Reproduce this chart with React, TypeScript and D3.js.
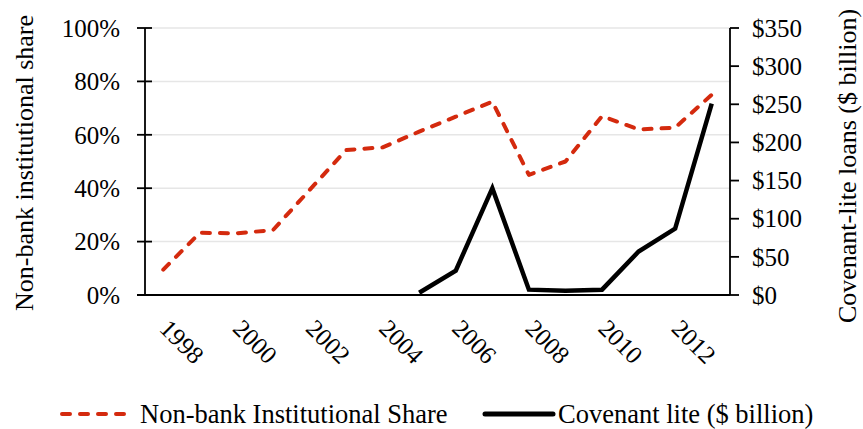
import React from "react";
import * as d3 from "d3";

const years = [1998,1999,2000,2001,2002,2003,2004,2005,2006,2007,2008,2009,2010,2011,2012,2013];
const nonBankShare = [9.5,23.3,23.1,24.3,39.3,54.3,55.3,61.2,66.8,72.4,45,50,67,62,62.7,75];
const covLiteYears = [2005,2006,2007,2008,2009,2010,2011,2012,2013];
const covLite = [3,32,140,7,5.5,7,57,87,251];
const leftTicks = [0,20,40,60,80,100];
const rightTicks = [0,50,100,150,200,250,300,350];
const xLabelYears = [1998,2000,2002,2004,2006,2008,2010,2012];

const W = 863, H = 429;
const L = 145, R = 730, T = 28, B = 295;
const RED = "#d42a0e";
const FONT = "'Liberation Serif', 'Times New Roman', serif";

export default function App() {
  const x = d3.scaleBand<number>().domain(years).range([L, R]);
  const cx = (yr: number) => (x(yr) as number) + x.bandwidth() / 2;
  const yL = d3.scaleLinear().domain([0, 100]).range([B, T]);
  const yR = d3.scaleLinear().domain([0, 350]).range([B, T]);
  const redLine = d3.line<number>().x((_, i) => cx(years[i])).y(d => yL(d));
  const blackLine = d3.line<number>().x((_, i) => cx(covLiteYears[i])).y(d => yR(d));
  return (
    <svg width={W} height={H} style={{ position: "absolute", left: 0, top: 0, background: "#fff" }} fontFamily={FONT}>
      <rect width={W} height={H} fill="#fff" />
      {leftTicks.map(t => (
        <line key={"g" + t} x1={L} x2={R} y1={yL(t)} y2={yL(t)} stroke="#e6e6e6" strokeWidth={1.5} />
      ))}
      <path d={redLine(nonBankShare) || ""} fill="none" stroke={RED} strokeWidth={4} strokeDasharray="8 10" strokeLinecap="round" strokeLinejoin="round" />
      <path d={blackLine(covLite) || ""} fill="none" stroke="#000" strokeWidth={4.5} strokeLinejoin="miter" />
      {/* axes */}
      <line x1={L} x2={L} y1={T} y2={B} stroke="#000" strokeWidth={1.8} />
      <line x1={R} x2={R} y1={T} y2={B} stroke="#000" strokeWidth={1.8} />
      <line x1={L - 8} x2={R} y1={B} y2={B} stroke="#000" strokeWidth={1.8} />
      {leftTicks.map(t => (
        <g key={"l" + t}>
          <line x1={L - 8} x2={L + 7} y1={yL(t)} y2={yL(t)} stroke="#000" strokeWidth={1.8} />
          <text x={120} y={yL(t)} dy="0.35em" textAnchor="end" fontSize={25}>{t}%</text>
        </g>
      ))}
      {rightTicks.map(t => (
        <g key={"r" + t}>
          <line x1={R} x2={R + 9} y1={yR(t)} y2={yR(t)} stroke="#000" strokeWidth={1.8} />
          <text x={752} y={yR(t)} dy="0.35em" textAnchor="start" fontSize={25}>${t}</text>
        </g>
      ))}
      {xLabelYears.map(yr => (
        <text key={"x" + yr} transform={`translate(${cx(yr) - 5},${330}) rotate(45)`} fontSize={25} textAnchor="start">{yr}</text>
      ))}
      <text transform={`translate(32.5,${163}) rotate(-90)`} textAnchor="middle" fontSize={26}>Non-bank institutional share</text>
      <text transform={`translate(856,${166}) rotate(-90)`} textAnchor="middle" fontSize={26}>Covenant-lite loans ($ billion)</text>
      {/* legend */}
      <line x1={62} x2={128} y1={414} y2={414} stroke={RED} strokeWidth={4} strokeDasharray="8 10" strokeLinecap="round" />
      <text x={140} y={423} fontSize={26.5}>Non-bank Institutional Share</text>
      <line x1={485} x2={553} y1={414} y2={414} stroke="#000" strokeWidth={5} strokeLinecap="round" />
      <text x={558} y={423} fontSize={26.5}>Covenant lite ($ billion)</text>
    </svg>
  );
}
